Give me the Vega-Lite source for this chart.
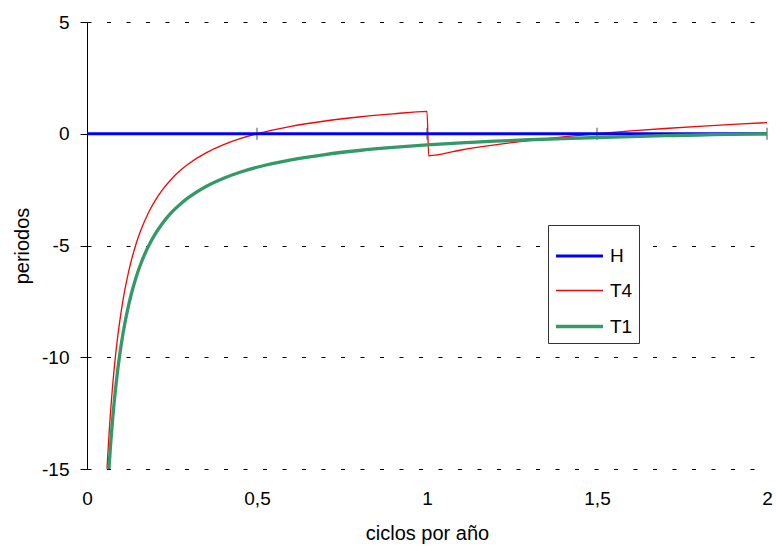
{
  "$schema": "https://vega.github.io/schema/vega-lite/v6.json",
  "width": 680,
  "height": 447,
  "autosize": "none",
  "padding": {"left": 87, "top": 22, "right": 9, "bottom": 77},
  "background": "white",
  "config": {"view": {"stroke": null}, "font": "Liberation Sans"},
  "datasets": {
    "series": [
      {"f": 0.05, "serie": "T4", "v": -18},
      {"f": 0.055, "serie": "T4", "v": -16.182},
      {"f": 0.06, "serie": "T4", "v": -14.667},
      {"f": 0.065, "serie": "T4", "v": -13.385},
      {"f": 0.07, "serie": "T4", "v": -12.286},
      {"f": 0.075, "serie": "T4", "v": -11.333},
      {"f": 0.08, "serie": "T4", "v": -10.5},
      {"f": 0.085, "serie": "T4", "v": -9.765},
      {"f": 0.09, "serie": "T4", "v": -9.111},
      {"f": 0.1, "serie": "T4", "v": -8},
      {"f": 0.11, "serie": "T4", "v": -7.091},
      {"f": 0.12, "serie": "T4", "v": -6.333},
      {"f": 0.13, "serie": "T4", "v": -5.692},
      {"f": 0.14, "serie": "T4", "v": -5.143},
      {"f": 0.15, "serie": "T4", "v": -4.667},
      {"f": 0.16, "serie": "T4", "v": -4.25},
      {"f": 0.18, "serie": "T4", "v": -3.556},
      {"f": 0.2, "serie": "T4", "v": -3},
      {"f": 0.22, "serie": "T4", "v": -2.545},
      {"f": 0.25, "serie": "T4", "v": -2},
      {"f": 0.28, "serie": "T4", "v": -1.571},
      {"f": 0.3, "serie": "T4", "v": -1.333},
      {"f": 0.35, "serie": "T4", "v": -0.857},
      {"f": 0.4, "serie": "T4", "v": -0.5},
      {"f": 0.45, "serie": "T4", "v": -0.222},
      {"f": 0.5, "serie": "T4", "v": 0},
      {"f": 0.6, "serie": "T4", "v": 0.333},
      {"f": 0.7, "serie": "T4", "v": 0.571},
      {"f": 0.8, "serie": "T4", "v": 0.75},
      {"f": 0.9, "serie": "T4", "v": 0.889},
      {"f": 1.0, "serie": "T4", "v": 1.0},
      {"f": 1.005, "serie": "T4", "v": -0.985},
      {"f": 1.1, "serie": "T4", "v": -0.727},
      {"f": 1.2, "serie": "T4", "v": -0.5},
      {"f": 1.3, "serie": "T4", "v": -0.308},
      {"f": 1.4, "serie": "T4", "v": -0.143},
      {"f": 1.5, "serie": "T4", "v": 0},
      {"f": 1.6, "serie": "T4", "v": 0.125},
      {"f": 1.7, "serie": "T4", "v": 0.235},
      {"f": 1.8, "serie": "T4", "v": 0.333},
      {"f": 1.9, "serie": "T4", "v": 0.421},
      {"f": 2.0, "serie": "T4", "v": 0.5},
      {"f": 0, "serie": "H", "v": 0},
      {"f": 2, "serie": "H", "v": 0},
      {"f": 0.05, "serie": "T1", "v": -19.5},
      {"f": 0.055, "serie": "T1", "v": -17.682},
      {"f": 0.06, "serie": "T1", "v": -16.167},
      {"f": 0.065, "serie": "T1", "v": -14.885},
      {"f": 0.07, "serie": "T1", "v": -13.786},
      {"f": 0.075, "serie": "T1", "v": -12.833},
      {"f": 0.08, "serie": "T1", "v": -12.0},
      {"f": 0.085, "serie": "T1", "v": -11.265},
      {"f": 0.09, "serie": "T1", "v": -10.611},
      {"f": 0.1, "serie": "T1", "v": -9.5},
      {"f": 0.11, "serie": "T1", "v": -8.591},
      {"f": 0.12, "serie": "T1", "v": -7.833},
      {"f": 0.13, "serie": "T1", "v": -7.192},
      {"f": 0.14, "serie": "T1", "v": -6.643},
      {"f": 0.15, "serie": "T1", "v": -6.167},
      {"f": 0.16, "serie": "T1", "v": -5.75},
      {"f": 0.18, "serie": "T1", "v": -5.056},
      {"f": 0.2, "serie": "T1", "v": -4.5},
      {"f": 0.22, "serie": "T1", "v": -4.045},
      {"f": 0.25, "serie": "T1", "v": -3.5},
      {"f": 0.28, "serie": "T1", "v": -3.071},
      {"f": 0.3, "serie": "T1", "v": -2.833},
      {"f": 0.35, "serie": "T1", "v": -2.357},
      {"f": 0.4, "serie": "T1", "v": -2.0},
      {"f": 0.45, "serie": "T1", "v": -1.722},
      {"f": 0.5, "serie": "T1", "v": -1.5},
      {"f": 0.6, "serie": "T1", "v": -1.167},
      {"f": 0.7, "serie": "T1", "v": -0.929},
      {"f": 0.8, "serie": "T1", "v": -0.75},
      {"f": 0.9, "serie": "T1", "v": -0.611},
      {"f": 1.0, "serie": "T1", "v": -0.5},
      {"f": 1.1, "serie": "T1", "v": -0.409},
      {"f": 1.2, "serie": "T1", "v": -0.333},
      {"f": 1.3, "serie": "T1", "v": -0.269},
      {"f": 1.4, "serie": "T1", "v": -0.214},
      {"f": 1.5, "serie": "T1", "v": -0.167},
      {"f": 1.6, "serie": "T1", "v": -0.125},
      {"f": 1.7, "serie": "T1", "v": -0.088},
      {"f": 1.8, "serie": "T1", "v": -0.056},
      {"f": 1.9, "serie": "T1", "v": -0.026},
      {"f": 2.0, "serie": "T1", "v": 0}
    ],
    "ticks": [{"f": 0.5}, {"f": 1}, {"f": 1.5}, {"f": 2}]
  },
  "layer": [
    {
      "data": {"name": "ticks"},
      "mark": {"type": "tick", "orient": "vertical", "color": "black", "size": 12, "thickness": 1},
      "encoding": {
        "x": {"field": "f", "type": "quantitative", "scale": {"domain": [0, 2], "nice": false, "zero": false},
          "axis": {"orient": "bottom", "domain": false, "ticks": false, "grid": false, "values": [0, 0.5, 1, 1.5, 2], "format": "~g",
            "labelExpr": "replace(datum.label, '.', ',')", "labelFontSize": 19, "labelPadding": 20, "labelColor": "black", "labelFlush": false,
            "title": "ciclos por año", "titleFontSize": 20, "titleFontWeight": "normal", "titleColor": "black", "titlePadding": 15}},
        "y": {"datum": 0, "type": "quantitative"}
      }
    },
    {
      "data": {"name": "series"},
      "mark": {"type": "line", "clip": true, "interpolate": "monotone"},
      "encoding": {
        "x": {"field": "f", "type": "quantitative", "scale": {"domain": [0, 2], "nice": false, "zero": false},
          "axis": {"orient": "bottom", "domain": false, "ticks": false, "grid": false, "values": [0, 0.5, 1, 1.5, 2], "format": "~g",
            "labelExpr": "replace(datum.label, '.', ',')", "labelFontSize": 19, "labelPadding": 20, "labelColor": "black", "labelFlush": false,
            "title": "ciclos por año", "titleFontSize": 20, "titleFontWeight": "normal", "titleColor": "black", "titlePadding": 15}},
        "y": {"field": "v", "type": "quantitative", "scale": {"domain": [-15, 5], "nice": false},
          "axis": {"values": [-15, -10, -5, 0, 5], "domain": true, "domainColor": "black", "tickColor": "black", "tickSize": 7,
            "grid": true, "gridColor": "black", "gridDash": [4, 15.5], "gridWidth": 1, "gridOpacity": 1,
            "labelExpr": "replace(datum.label, '\u2212', '-')", "labelFontSize": 19, "labelPadding": 11, "labelColor": "black",
            "title": "periodos", "titleFontSize": 20, "titleFontWeight": "normal", "titleColor": "black", "titlePadding": 9}},
        "color": {"field": "serie", "type": "nominal", "sort": null,
          "scale": {"domain": ["H", "T4", "T1"], "range": ["#0000FF", "#FF0000", "#339966"]},
          "legend": {"title": null, "orient": "none", "legendX": 461, "legendY": 203, "symbolType": "stroke", "symbolSize": 2209,
            "labelFontSize": 19, "labelColor": "black", "padding": 6, "strokeColor": "#333", "fillColor": "white", "rowPadding": 0, "labelOffset": 5}},
        "strokeWidth": {"field": "serie", "type": "nominal", "sort": null,
          "scale": {"type": "ordinal", "domain": ["H", "T4", "T1"], "range": [3, 1.3, 3.3]},
          "legend": {"title": null, "orient": "none", "legendX": 461, "legendY": 203, "symbolType": "stroke", "symbolSize": 2209,
            "labelFontSize": 19, "labelColor": "black", "padding": 6, "strokeColor": "#333", "fillColor": "white", "rowPadding": 0, "labelOffset": 5}}
      }
    }
  ]
}
